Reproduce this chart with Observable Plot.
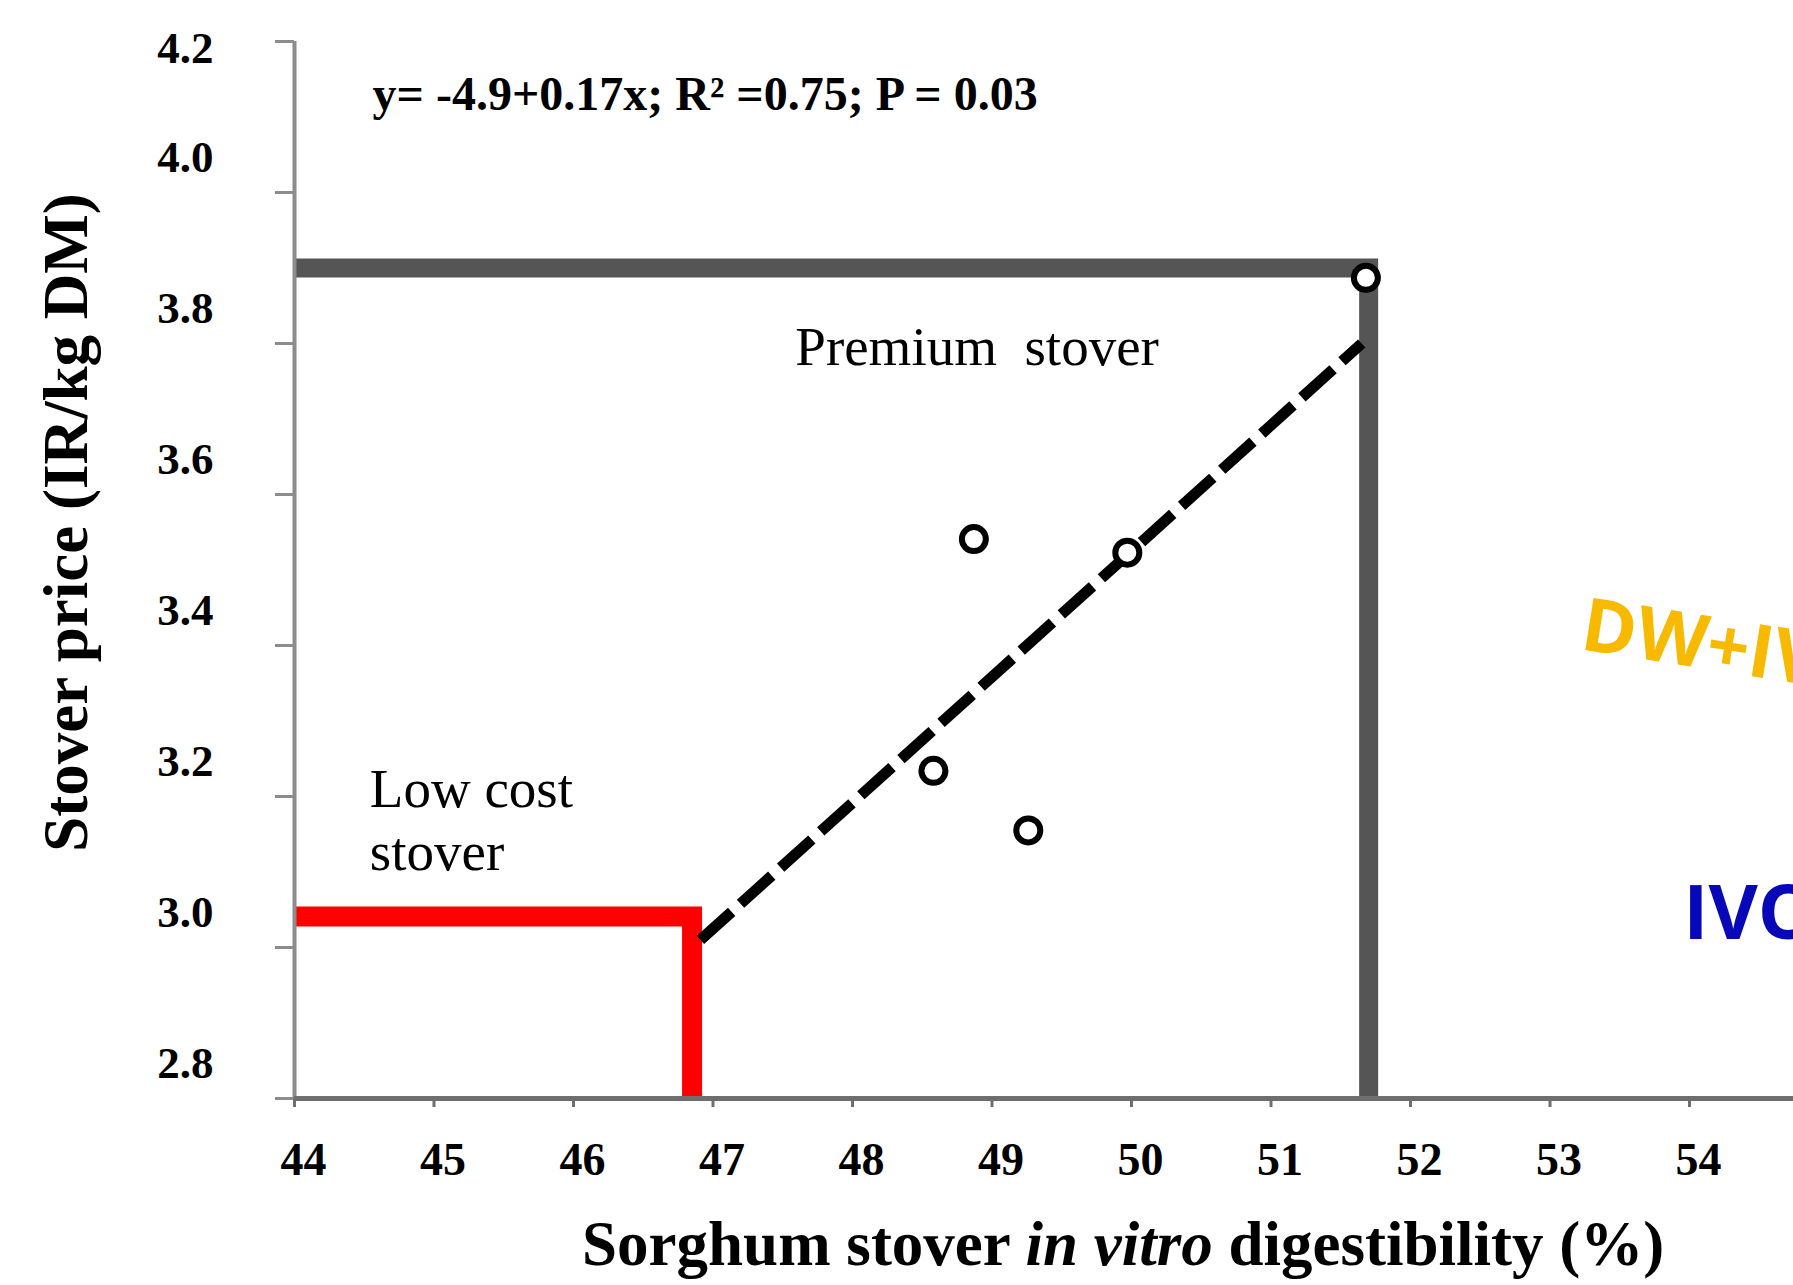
<!DOCTYPE html>
<html>
<head>
<meta charset="utf-8">
<script src="https://cdn.jsdelivr.net/npm/d3@7"></script>
<script src="https://cdn.jsdelivr.net/npm/@observablehq/plot@0.6"></script>
<style>
  html, body { margin: 0; padding: 0; background: #fff; overflow: hidden; }
  #chart svg text { white-space: pre; }
  #chart svg g.threshold path { stroke-linejoin: miter; stroke-miterlimit: 10; stroke-linecap: butt; }
</style>
</head>
<body>
<div id="chart"></div>
<script>
// ---- data ----
const digestibility = [51.68, 48.87, 49.97, 48.58, 49.26];   // % IVD
const price = [3.887, 3.541, 3.523, 3.234, 3.155];          // IR/kg DM
const trendX = [46.91, 51.65];
const trendY = [3.01, 3.80];
const premiumX = [44, 51.70, 51.70];
const premiumY = [3.90, 3.90, 2.8];
const lowCostX = [44, 46.85, 46.85];
const lowCostY = [3.041, 3.041, 2.8];
const xTicks = [44, 45, 46, 47, 48, 49, 50, 51, 52, 53, 54];
const yTicks = [2.8, 3.0, 3.2, 3.4, 3.6, 3.8, 4.0, 4.2];
const yLabelTicks = [2.8, 3.0, 3.2, 3.4, 3.6, 3.8, 4.0];
const yTopLabelTick = [4.2];

const equationText = "y= -4.9+0.17x; R\u00B2 =0.75; P = 0.03";
const premiumText = "Premium  stover";
const lowCostText = "Low cost\nstover";
const dwText = "DW+IVOMD";
const ivText = "IVOMD";
const xLabel = "Sorghum stover in vitro digestibility (%)";
const yLabel = "Stover price (IR/kg DM)";

const points = digestibility.map((x, i) => ({x, y: price[i]}));
const trend = trendX.map((x, i) => ({x, y: trendY[i]}));
const premium = premiumX.map((x, i) => ({x, y: premiumY[i]}));
const lowCost = lowCostX.map((x, i) => ({x, y: lowCostY[i]}));

const serif = "'Liberation Serif', 'Times New Roman', serif";
const sans = "'Open Sans', 'Noto Sans', sans-serif";

const chart = Plot.plot({
  width: 1793,
  height: 1285,
  marginLeft: 294,
  marginTop: 41,
  marginBottom: 187,
  marginRight: 0,
  x: {domain: [44, 56], range: [294, 294 + 12 * 139.5]},
  y: {domain: [2.8, 4.2], range: [1098, 41]},
  style: {fontFamily: serif, background: "white", overflow: "visible", color: "black"},
  marks: [
    // threshold lines
    Plot.line(premium, {x: "x", y: "y", stroke: "#555555", strokeWidth: 19, strokeLinejoin: "miter", strokeMiterlimit: 10, strokeLinecap: "butt", className: "threshold"}),
    Plot.line(lowCost, {x: "x", y: "y", stroke: "#ff0000", strokeWidth: 20, strokeLinejoin: "miter", strokeMiterlimit: 10, strokeLinecap: "butt", className: "threshold"}),
    // axis lines
    Plot.ruleX([44], {y1: 2.8, y2: 4.2, stroke: "#8c8c8c", strokeWidth: 4}),
    Plot.ruleY([2.8], {x1: 44, x2: 56, stroke: "#6e6e6e", strokeWidth: 5}),
    // y ticks
    Plot.axisY(yTicks, {anchor: "left", tickSize: 19, stroke: "#8c8c8c", strokeWidth: 3, fill: "none", label: null}),
    // y tick labels (shifted above their ticks, as in the reference)
    Plot.axisY(yLabelTicks, {anchor: "left", tickSize: 0, tickPadding: 81, dy: -35, fill: "black",
      fontSize: 45, fontWeight: "bold", fontFamily: serif, tickFormat: d => d.toFixed(1), label: null}),
    Plot.axisY(yTopLabelTick, {anchor: "left", tickSize: 0, tickPadding: 81, dy: 7, fill: "black",
      fontSize: 45, fontWeight: "bold", fontFamily: serif, tickFormat: d => d.toFixed(1), label: null}),
    // x ticks
    Plot.axisX(xTicks, {anchor: "bottom", tickSize: 9, stroke: "#6e6e6e", strokeWidth: 3, fill: "none", label: null}),
    Plot.axisX(xTicks, {anchor: "bottom", tickSize: 0, tickPadding: 44, dx: 9, fill: "black",
      fontSize: 46, fontWeight: "bold", fontFamily: serif, tickFormat: d => String(d), label: null}),
    // regression line
    Plot.line(trend, {x: "x", y: "y", stroke: "black", strokeWidth: 11, strokeDasharray: "42,12", strokeLinecap: "butt"}),
    // observations
    Plot.dot(points, {x: "x", y: "y", r: 12, stroke: "black", strokeWidth: 6, fill: "white"}),
    // annotations
    Plot.text([equationText], {x: 44.56, y: 4.129, textAnchor: "start", lineAnchor: "middle",
      fontSize: 48, fontWeight: "bold", fontFamily: serif, fill: "black"}),
    Plot.text([premiumText], {x: 47.59, y: 3.795, textAnchor: "start", lineAnchor: "middle",
      fontSize: 55, fontFamily: serif, fill: "black"}),
    Plot.text([lowCostText], {x: 44.54, y: 3.171, textAnchor: "start", lineAnchor: "middle", lineHeight: 1.15,
      fontSize: 55, fontFamily: serif, fill: "black"}),
    Plot.text([dwText], {x: 53.233, y: 3.4265, textAnchor: "start", lineAnchor: "middle", rotate: 9,
      fontSize: 74, fontWeight: "bold", fontFamily: sans, fill: "#F7BA00"}),
    Plot.text([ivText], {x: 53.955, y: 3.044, textAnchor: "start", lineAnchor: "middle",
      fontSize: 76, fontWeight: "bold", fontFamily: sans, fill: "#0808B8"}),
    // axis titles
    Plot.text([xLabel], {x: [49.94], frameAnchor: "bottom", textAnchor: "middle", lineAnchor: "middle", dy: 146,
      fontSize: 63, fontWeight: "bold", fontFamily: serif, fill: "black"}),
    Plot.text([yLabel], {frameAnchor: "left", rotate: -90, textAnchor: "middle", lineAnchor: "middle", dx: -228, dy: -47.5,
      fontSize: 63, fontWeight: "bold", fontFamily: serif, fill: "black"})
  ]
});

document.getElementById("chart").appendChild(chart);

// italicise "in vitro" in the x-axis title
const xt = Array.from(chart.querySelectorAll("text")).find(el => el.textContent === xLabel);
if (xt) {
  const ns = "http://www.w3.org/2000/svg";
  const parts = [["Sorghum stover ", "normal"], ["in vitro", "italic"], [" digestibility (%)", "normal"]];
  xt.textContent = "";
  for (const [s, st] of parts) {
    const ts = document.createElementNS(ns, "tspan");
    ts.setAttribute("font-style", st);
    ts.textContent = s;
    xt.appendChild(ts);
  }
}
</script>
</body>
</html>
